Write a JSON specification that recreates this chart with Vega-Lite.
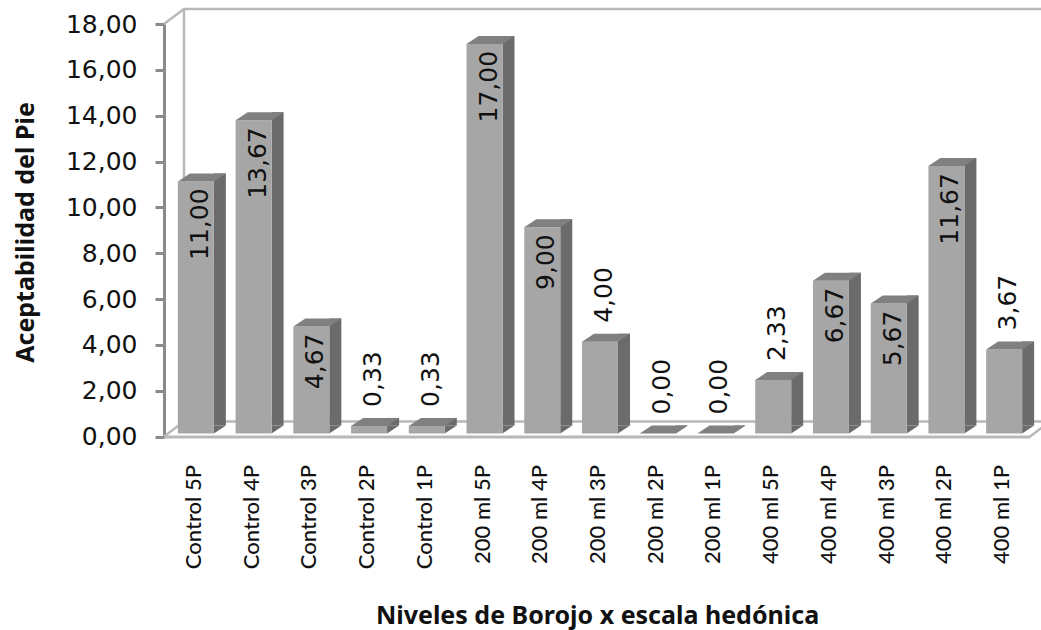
{
"$schema":"https://vega.github.io/schema/vega-lite/v6.json",
"autosize":{"type":"none"},
"width":866,"height":412.5,
"padding":{"left":164,"top":24,"right":11,"bottom":193.5},
"background":"white",
"config":{"view":{"stroke":null}},
"datasets":{
"bars":[
{"cat":"Control 5P","value":11.00,"label":"11,00"},
{"cat":"Control 4P","value":13.67,"label":"13,67"},
{"cat":"Control 3P","value":4.67,"label":"4,67"},
{"cat":"Control 2P","value":0.33,"label":"0,33"},
{"cat":"Control 1P","value":0.33,"label":"0,33"},
{"cat":"200 ml 5P","value":17.00,"label":"17,00"},
{"cat":"200 ml 4P","value":9.00,"label":"9,00"},
{"cat":"200 ml 3P","value":4.00,"label":"4,00"},
{"cat":"200 ml 2P","value":0.00,"label":"0,00"},
{"cat":"200 ml 1P","value":0.00,"label":"0,00"},
{"cat":"400 ml 5P","value":2.33,"label":"2,33"},
{"cat":"400 ml 4P","value":6.67,"label":"6,67"},
{"cat":"400 ml 3P","value":5.67,"label":"5,67"},
{"cat":"400 ml 2P","value":11.67,"label":"11,67"},
{"cat":"400 ml 1P","value":3.67,"label":"3,67"}
],
"frame":[
{"edge":"floor","step":0,"bx":0,"by":0},
{"edge":"floor","step":1,"bx":0.3465,"by":0.654},
{"edge":"floor","step":2,"bx":16,"by":0.654},
{"edge":"top","step":0,"bx":0,"by":18},
{"edge":"top","step":1,"bx":0.3465,"by":18.654},
{"edge":"top","step":2,"bx":16,"by":18.654},
{"edge":"wall","step":0,"bx":0.3465,"by":0.654},
{"edge":"wall","step":1,"bx":0.3465,"by":18.654},
{"edge":"side","step":0,"bx":15,"by":0},
{"edge":"side","step":1,"bx":15.3465,"by":0.654}
]},
"encoding":{
"x":{"field":"cat","type":"nominal","sort":null,"title":"Niveles de Borojo x escala hedónica",
"scale":{"paddingInner":0,"paddingOuter":0},
"axis":{"labelAngle":-90,"labelFont":"Lato","labelFontSize":22,"labelFontWeight":500,"labelColor":"#111111","labelPadding":28,"labelBaseline":"middle","labelAlign":"right","labelOffset":1,"ticks":false,"domainColor":"#b8b8b8","domainWidth":3,"titleFont":"Noto Sans","titleFontSize":25,"titleFontWeight":"bold","titleColor":"#111111","titleX":433,"titleY":167,"titleAlign":"center","labelOverlap":false,"labelBound":false,"labelFlush":false}},
"y":{"type":"quantitative","scale":{"domain":[0,18],"nice":false},"title":"Aceptabilidad del Pie",
"axis":{"values":[0,2,4,6,8,10,12,14,16,18],"labelExpr":"replace(format(datum.value,'.2f'),'.',',')","grid":false,"labelFont":"DejaVu Sans","labelFontSize":25,"labelColor":"#111111","labelPadding":18,"tickSize":9,"tickColor":"#8a8a8a","tickWidth":3,"domainColor":"#8a8a8a","domainWidth":3,"titleFont":"Noto Sans","titleFontSize":25,"titleFontWeight":"bold","titleColor":"#111111","titleX":-139,"titleY":208,"titleAngle":-90,"titleAlign":"center","titleBaseline":"middle"}}
},
"resolve":{"scale":{"x":"independent"}},
"layer":[
{"data":{"name":"frame"},"mark":{"type":"line","color":"#b8b8b8","strokeWidth":2.5,"clip":false},
"encoding":{"x":{"field":"bx","type":"quantitative","scale":{"domain":[0,15],"nice":false,"zero":false},"axis":null,"title":null},"y":{"field":"by","type":"quantitative"},"detail":{"field":"edge"},"order":{"field":"step"}}},
{"data":{"name":"bars"},
"layer":[
{"mark":{"type":"bar","color":"#6b6b6b","width":12,"xOffset":27,"yOffset":-11},"encoding":{"y":{"field":"value"}}},
{"mark":{"type":"point","filled":true,"opacity":1,"color":"#6b6b6b","strokeWidth":0,"size":1296,"shape":"M1,0 L1.667,-0.444 L1,-0.444 Z","xOffset":3,"yOffset":-3},"encoding":{"y":{"datum":0}}},
{"mark":{"type":"bar","color":"#a6a6a6","width":36,"xOffset":3,"yOffset":-3},"encoding":{"y":{"field":"value"}}},
{"mark":{"type":"point","filled":true,"opacity":1,"color":"#808080","strokeWidth":0,"size":1296,"shape":"M-1,0 L1,0 L1.667,-0.444 L-0.333,-0.444 Z","xOffset":3,"yOffset":-3},"encoding":{"y":{"field":"value"}}},
{"transform":[{"filter":"datum.value >= 4.5"}],"mark":{"type":"text","angle":270,"align":"right","baseline":"middle","font":"DejaVu Sans","fontSize":25,"color":"#111111","xOffset":7,"yOffset":4},"encoding":{"y":{"field":"value"},"text":{"field":"label"}}},
{"transform":[{"filter":"datum.value < 4.5"}],"mark":{"type":"text","angle":270,"align":"left","baseline":"middle","font":"DejaVu Sans","fontSize":25,"color":"#111111","xOffset":7,"yOffset":-22},"encoding":{"y":{"field":"value"},"text":{"field":"label"}}}
]}
]
}
